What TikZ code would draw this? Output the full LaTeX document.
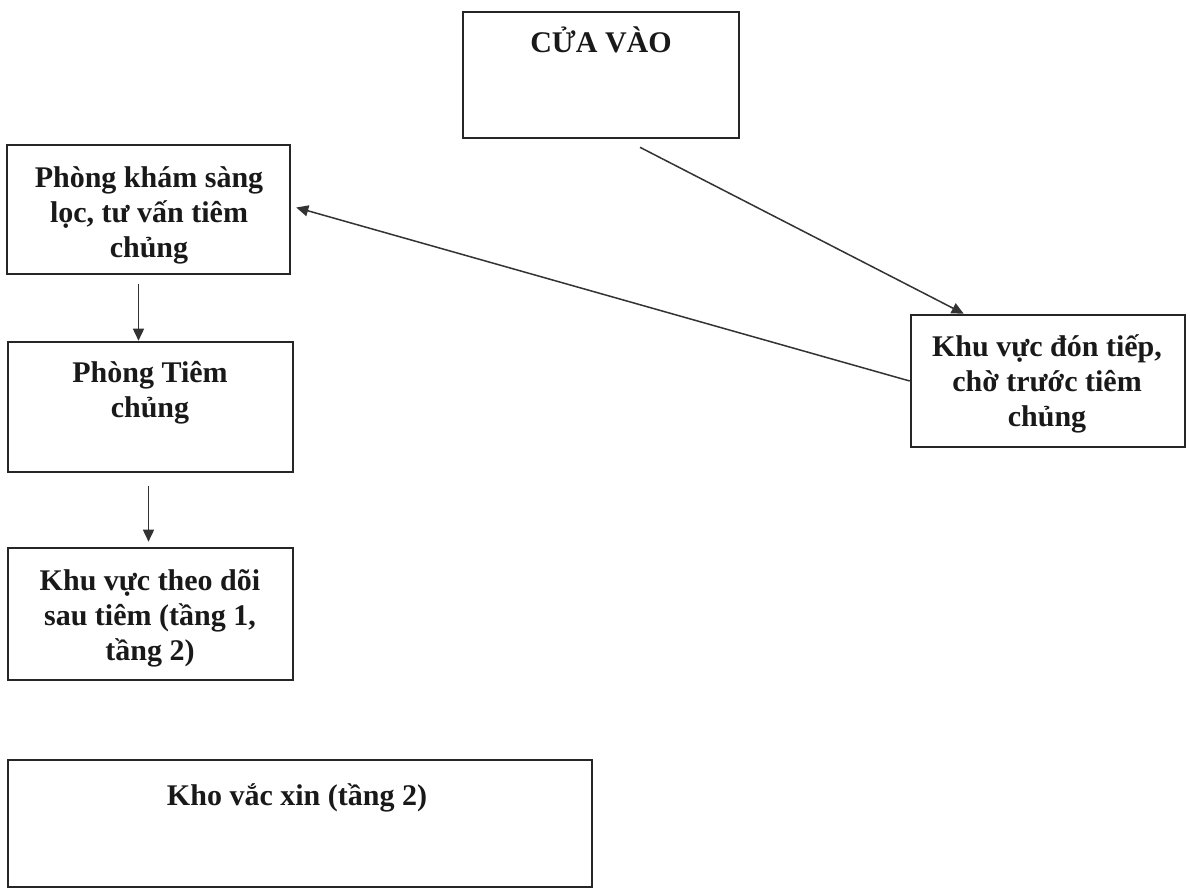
\documentclass[tikz,border=0pt]{standalone}
\usepackage{fontspec}
\setmainfont{Liberation Serif}
\usetikzlibrary{calc,arrows.meta}
\begin{document}
\begin{tikzpicture}[x=1pt,y=-1pt,
  box/.style={draw=black!85, line width=2.6pt, inner sep=0pt},
  lbl/.style={font=\bfseries\fontsize{30}{35}\selectfont, align=center, text=black!90, inner sep=0pt},
  arr/.style={draw=black!80, line width=1.5pt, -{Triangle[length=12pt,width=11pt]}}]
\fill[white] (0,0) rectangle (1190,892);
\useasboundingbox (0,0) rectangle (1190,892);
% boxes
\node[box, minimum width=276pt, minimum height=126pt] (cua) at (601,75) {};
\node[box, minimum width=283pt, minimum height=129pt] (kham) at (148.5,209.5) {};
\node[box, minimum width=285pt, minimum height=130pt] (tiem) at (150.5,407) {};
\node[box, minimum width=285pt, minimum height=132pt] (theodoi) at (150.5,614) {};
\node[box, minimum width=584pt, minimum height=127pt] (kho) at (300,823.5) {};
\node[box, minimum width=274pt, minimum height=132pt] (dontiep) at (1048,381) {};
% labels
\node[lbl, anchor=base] (tcua) at (601,52) {CỬA VÀO};
\node[lbl] (tkham) at (149,215) {Phòng khám sàng\\lọc, tư vấn tiêm\\chủng};
\node[lbl] (ttiem) at (150,393) {Phòng Tiêm\\chủng};
\node[lbl] (ttheodoi) at (150,618) {Khu vực theo dõi\\sau tiêm (tầng 1,\\tầng 2)};
\node[lbl, anchor=base] (tkho) at (297,805) {Kho vắc xin (tầng 2)};
\node[lbl] (tdontiep) at (1047,384) {Khu vực đón tiếp,\\chờ trước tiêm\\chủng};
% connectors
\draw[arr] ($(cua.south)+(39,8)$) -- ($(dontiep.north west)+(54,0)$);
\draw[arr] (dontiep.west) -- ($(kham.east)+(5,-2)$);
\draw[arr] ($(kham.south)+(-10,9)$) coordinate (a1) -- (a1 |- tiem.north);
\draw[arr] ($(tiem.south)+(-2,13)$) coordinate (a2) -- ($(a2 |- theodoi.north)+(0,-5)$);
\end{tikzpicture}
\end{document}
